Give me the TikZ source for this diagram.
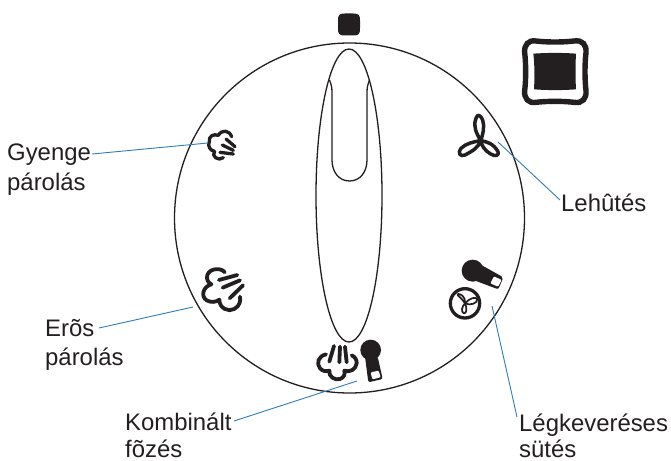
\documentclass[tikz,border=0pt]{standalone}
\usepackage{fontspec}
\setmainfont{Liberation Sans}
\definecolor{ink}{HTML}{231F20}
\definecolor{lead}{HTML}{2F7DB8}
\tikzset{
 lab/.style={anchor=base west,inner sep=0pt,text=ink,font=\fontsize{23.9}{26}\selectfont},
 leader/.style={draw=lead,line width=0.9pt},
 thin line/.style={draw=ink,line width=1.3pt},
 icon/.style={draw=ink,line width=3.3pt,line cap=round,line join=round},
 iconb/.style={draw=ink,line width=3.8pt,line cap=round,line join=round},
}
\begin{document}
\begin{tikzpicture}[x=1pt,y=-1pt]
\useasboundingbox (0,0) rectangle (671,460);
% dial
\draw[thin line] (349.5,218) circle [radius=175];
\draw[thin line] (349,195.5) ellipse [x radius=33,y radius=146.5];
\draw[thin line] (329.5,80) .. controls (331,84) and (332,87) .. (332,92) -- (332,160)
  .. controls (332,172) and (339,181) .. (349.5,181)
  .. controls (360,181) and (367,172) .. (367,160) -- (367,92)
  .. controls (367,87) and (368,84) .. (369.5,80);
% top mark
\fill[ink] (345,13.5) .. controls (339,13.5) and (338,15) .. (338,21) -- (338,28)
  .. controls (338,34) and (339,35.5) .. (345,35.5) -- (353,35.5)
  .. controls (359,35.5) and (360,34) .. (360,28) -- (360,21)
  .. controls (360,15) and (359,13.5) .. (353,13.5) -- cycle;
% square symbol
\begin{scope}[shift={(500,30)},scale=1/3]
\draw[draw=ink,line width=5.4pt] (108,33) .. controls (140,37) and (190,37) .. (222,33)
  .. controls (248,29) and (260,45) .. (258,68)
  .. controls (254,100) and (254,150) .. (258,182)
  .. controls (260,205) and (248,221) .. (222,217)
  .. controls (190,213) and (140,213) .. (108,217)
  .. controls (85,221) and (72,205) .. (74,182)
  .. controls (78,150) and (78,100) .. (74,68)
  .. controls (72,45) and (85,29) .. (108,33) -- cycle;
\fill[ink] (100,71) .. controls (140,68) and (190,68) .. (228,71)
  .. controls (226,105) and (226,145) .. (228,178)
  .. controls (190,181) and (140,181) .. (102,178)
  .. controls (104,145) and (104,105) .. (100,71) -- cycle;
\end{scope}
% gentle steam
\begin{scope}[shift={(190,120)},scale=1/3]
\draw[icon] (125,50) .. controls (118,30) and (95,28) .. (85,46)
  .. controls (70,40) and (55,50) .. (58,65)
  .. controls (52,78) and (60,92) .. (74,94)
  .. controls (62,108) and (85,125) .. (100,113);
\draw[icon] (108,57) -- (135,80);
\draw[icon] (97,75) -- (130,91);
\draw[icon] (90,97) -- (130,102);
\end{scope}
% strong steam
\begin{scope}[shift={(190,255)},scale=1/3]
\draw[iconb] (104,52) .. controls (95,38) and (60,38) .. (52,60)
  .. controls (48,72) and (55,84) .. (64,88)
  .. controls (38,95) and (32,125) .. (50,136)
  .. controls (62,143) and (78,142) .. (88,134)
  .. controls (88,160) and (115,172) .. (133,162)
  .. controls (150,152) and (152,138) .. (150,125);
\draw[iconb] (87,75) -- (142,60);
\draw[iconb] (98,98) -- (150,76);
\draw[iconb] (119,130) -- (159,91);
\end{scope}
% combined
\begin{scope}[shift={(300,330)},scale=1/3]
\draw[iconb] (78,73) .. controls (55,78) and (48,100) .. (60,115)
  .. controls (68,124) and (78,125) .. (88,122)
  .. controls (85,140) and (105,152) .. (120,147)
  .. controls (132,143) and (136,132) .. (133,122)
  .. controls (150,128) and (168,118) .. (170,100)
  .. controls (171,90) and (165,80) .. (155,76);
\draw[iconb] (102,48) -- (88,95);
\draw[iconb] (120,50) -- (118,97);
\draw[iconb] (135,50) -- (140,97);
\fill[ink] (212,60) circle [radius=31];
\fill[ink,rounded corners=2pt] (195,80) -- (205,157) -- (248,147) -- (233,80) -- cycle;
\fill[white,rounded corners=1pt] (212,127) -- (217,148) -- (242,142) -- (236,122) -- cycle;
\end{scope}
% fan with heat
\begin{scope}[shift={(430,250)},scale=1/3]
\fill[ink] (128,62) circle [radius=33];
\fill[ink,rounded corners=2pt] (145,40) -- (220,82) -- (205,118) -- (130,90) -- cycle;
\fill[white,rounded corners=1pt] (192,79) -- (215,90) -- (204,110) -- (181,100) -- cycle;
\draw[draw=ink,line width=3.3pt] (105,160) circle [radius=44];
\draw[draw=ink,line width=1.7pt,line join=round] (105,160)
  .. controls (92,140) and (78,135) .. (84,132) .. controls (90,130) and (108,140) .. (105,160)
  .. controls (118,145) and (138,138) .. (142,148) .. controls (142,160) and (120,168) .. (105,160)
  .. controls (112,175) and (110,190) .. (102,190) .. controls (92,186) and (95,170) .. (105,160) -- cycle;
\end{scope}
% fan
\begin{scope}[shift={(460,110)},scale=1/3]
\draw[draw=ink,line width=3.5pt,line join=round] (62,92)
  .. controls (50,70) and (38,50) .. (48,25) .. controls (52,10) and (62,15) .. (68,30)
  .. controls (74,50) and (70,70) .. (62,92)
  .. controls (80,95) and (100,100) .. (114,125) .. controls (118,138) and (105,140) .. (92,132)
  .. controls (75,122) and (65,108) .. (62,92)
  .. controls (55,112) and (40,122) .. (15,135) .. controls (0,142) and (-8,128) .. (3,115)
  .. controls (18,100) and (42,95) .. (62,92) -- cycle;
\end{scope}
% labels
\node[lab] (gy) at (7,160.5) {Gyenge};
\node[lab] (gy2) at (7,190) {párolás};
\node[lab] (er) at (45,336) {Erõs};
\node[lab] (er2) at (45,365) {párolás};
\node[lab] (ko) at (125,430) {Kombinált};
\node[lab] (ko2) at (125,457.5) {fõzés};
\node[lab] (le) at (561,211.5) {Lehûtés};
\node[lab] (la) at (519,431) {Légkeveréses};
\node[lab] (la2) at (519,457.5) {sütés};
\coordinate (g0) at (92,154);
\coordinate (g1) at (208,143);
\coordinate (e0) at (99,328);
\coordinate (e1) at (193,307);
\coordinate (k0) at (234,421);
\coordinate (k1) at (357,381);
\coordinate (l0) at (560,200);
\coordinate (l1) at (498,142);
\coordinate (s0) at (517,417);
\coordinate (s1) at (492,306);
\draw[leader] (g0) -- (g1);
\draw[leader] (e0) -- (e1);
\draw[leader] (k0) -- (k1);
\draw[leader] (l0) -- (l1);
\draw[leader] (s0) -- (s1);
\end{tikzpicture}
\end{document}
